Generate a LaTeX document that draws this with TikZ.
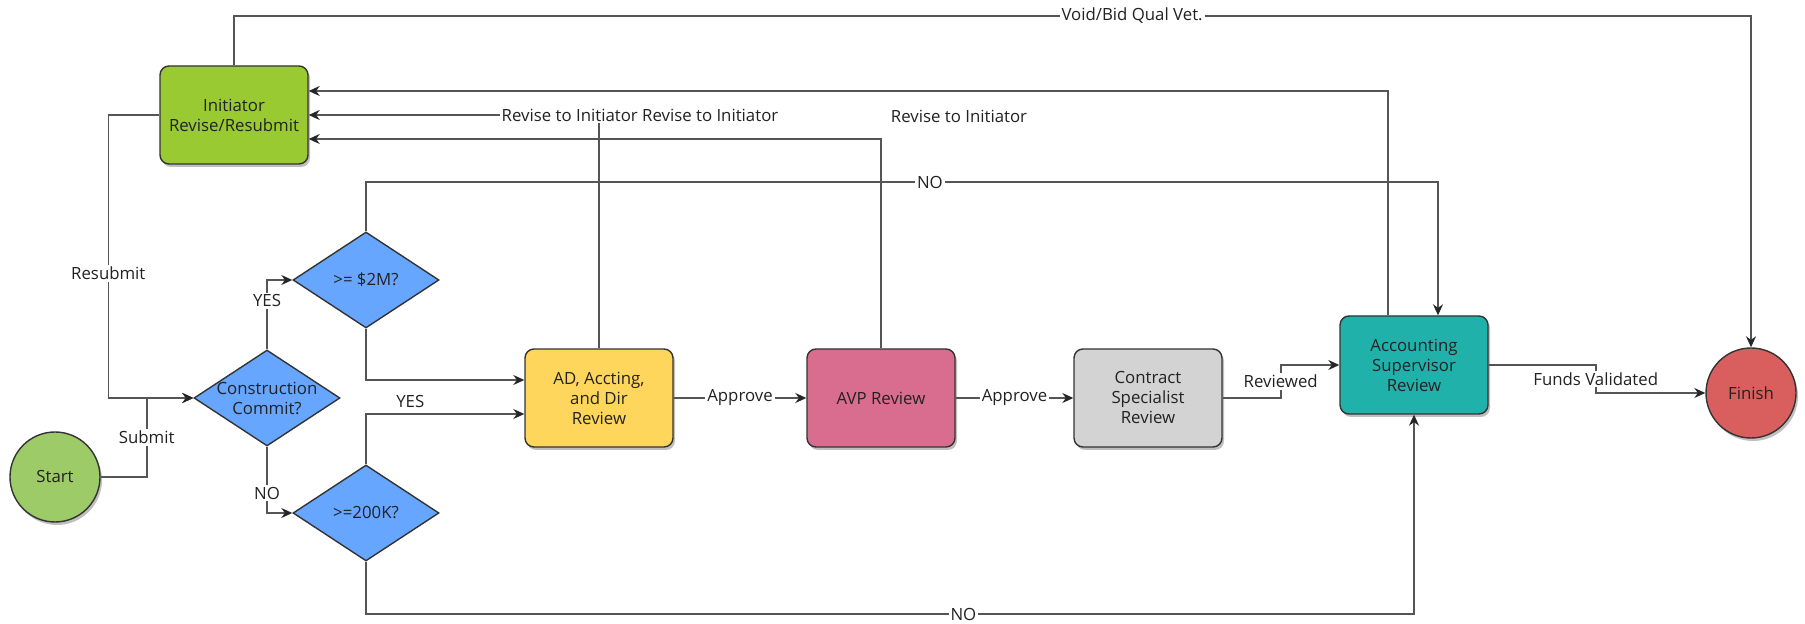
\documentclass[tikz,border=0pt]{standalone}
\usepackage{fontspec}
\setmainfont{Open Sans}
\usetikzlibrary{arrows.meta,shapes.geometric,calc,shadows}
\definecolor{lineC}{HTML}{555555}
\definecolor{bordC}{HTML}{333333}
\definecolor{txtC}{HTML}{222222}
\definecolor{initC}{HTML}{9ACA32}
\definecolor{startC}{HTML}{9CCB68}
\definecolor{diaC}{HTML}{66A6FF}
\definecolor{adC}{HTML}{FFD65C}
\definecolor{avpC}{HTML}{D96D8F}
\definecolor{conC}{HTML}{D3D3D3}
\definecolor{accC}{HTML}{20B2AA}
\definecolor{finC}{HTML}{D95F5F}
\newcommand{\dfont}{\fontsize{8.4}{10}\selectfont}
\begin{document}
\begin{tikzpicture}[x=0.5pt,y=-0.5pt,
  every node/.style={font=\dfont, text=txtC},
  shad/.style={drop shadow={shadow xshift=1pt, shadow yshift=-1.5pt, opacity=0.25, fill=black}},
  box/.style={draw=bordC, line width=0.7pt, rounded corners=4.5pt, minimum width=74pt, minimum height=49pt, align=center, inner sep=1pt, shad},
  dia/.style={diamond, draw=bordC, line width=0.7pt, fill=diaC, minimum width=73pt, minimum height=48pt, inner sep=0pt},
  circ/.style={circle, draw=bordC, line width=0.7pt, minimum size=45pt, inner sep=0pt, shad},
  arr/.style={draw=lineC, line width=0.8pt, -{Stealth[length=5.5pt,width=5pt,inset=1.8pt,color=black!85]}},
  lbl/.style={fill=white, inner sep=1pt}
]
\fill[white] (0,0) rectangle (1805,624);
\useasboundingbox (0,0) rectangle (1805,624);

% nodes
\node[box, fill=initC] (init) at (234,115) {Initiator\\Revise/Resubmit};
\node[circ, fill=startC] (start) at (55,477) {Start};
\node[dia] (constr) at (267,398) {};
\node at (constr) [align=center] {Construction\\Commit?};
\node[dia] (m2) at (366,280) {};
\node at (m2) {>= \$2M?};
\node[dia] (k200) at (366,513) {};
\node at (k200) {>=200K?};
\node[box, fill=adC] (ad) at (599,398) {AD, Accting,\\and Dir\\Review};
\node[box, fill=avpC] (avp) at (881,398) {AVP Review};
\node[box, fill=conC] (con) at (1148,398) {Contract\\Specialist\\Review};
\node[box, fill=accC] (acc) at (1414,365) {Accounting\\Supervisor\\Review};
\node[circ, fill=finC] (fin) at (1751,393) {Finish};

\coordinate (topY) at (0,16);
\coordinate (noY) at (0,182);
\coordinate (noB) at (0,614);

% connectors
\draw[arr] (start.east) -- ++(46,0) |- node[lbl,pos=0.25]{Submit} (constr.west);
\draw[arr] (init.west) -- ++(-51,0) |- node[lbl,pos=0.28]{Resubmit} (constr.west);
\draw[arr] (constr.north) |- node[lbl,pos=0.35]{YES} (m2.west);
\draw[arr] (constr.south) |- node[lbl,pos=0.35]{NO} (k200.west);
\draw[arr] (m2.south) |- ($(ad.west)+(0,-18)$);
\draw[arr] (k200.north) |- node[lbl,pos=0.64,anchor=south,yshift=2pt]{YES} ($(ad.west)+(0,16)$);
\draw[arr] (m2.north) -- (m2.north |- noY) -| node[lbl,pos=0.263]{NO} ($(acc.north)+(24,0)$);
\draw[arr] (k200.south) -- (k200.south |- noB) -| node[lbl,pos=0.285]{NO} (acc.south);
\draw[arr] (ad) -- node[lbl]{Approve} (avp);
\draw[arr] (avp) -- node[lbl]{Approve} (con);
\draw[arr] (con.east) -- ++(58,0) |- node[lbl,pos=0.25]{Reviewed} (acc.west);
\draw[arr] (acc.east) -- ++(107,0) |- node[lbl,pos=0.25]{Funds Validated} (fin.west);
\draw[arr] ($(acc.north)+(-26,0)$) |- ($(init.east)+(0,-24)$);
\draw[arr] (ad.north) |- node[lbl,pos=0.5,xshift=20.5pt]{Revise to Initiator Revise to Initiator} (init.east);
\draw[arr] (avp.north) |- ($(init.east)+(0,24)$);
\draw[arr] (init.north) -- (init.north |- topY) -| node[lbl,pos=0.296]{Void/Bid Qual Vet.} (fin.north);
\node[lbl] (rvlbl) at (959,116) {Revise to Initiator};
\end{tikzpicture}
\end{document}
